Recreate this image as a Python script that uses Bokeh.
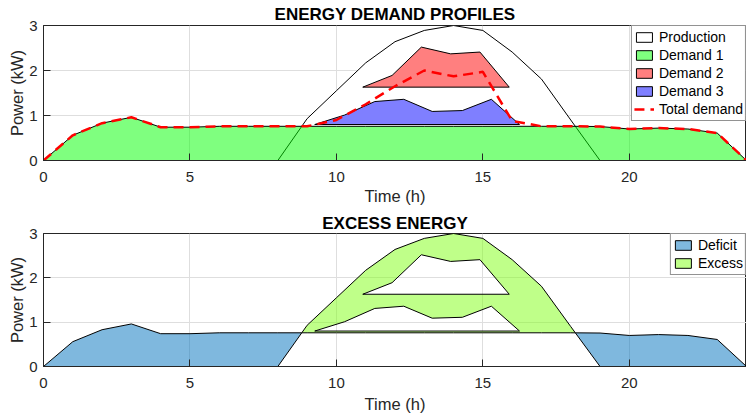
import numpy as np
from bokeh.plotting import figure
from bokeh.layouts import column
from bokeh.models import Range1d, FixedTicker
from bokeh.embed import file_html
from bokeh.resources import INLINE

# ---------------- data ----------------
hours = list(range(25))
demand1 = [0.0, 0.56, 0.83, 0.96, 0.74, 0.74, 0.76, 0.76, 0.76, 0.76, 0.76, 0.76, 0.76,
           0.76, 0.76, 0.76, 0.76, 0.76, 0.76, 0.755, 0.70, 0.72, 0.70, 0.61, 0.0]
total_demand = [0.0, 0.56, 0.83, 0.96, 0.74, 0.74, 0.76, 0.76, 0.76, 0.76, 0.90, 1.25, 1.65,
                2.00, 1.87, 1.97, 0.88, 0.76, 0.76, 0.755, 0.70, 0.72, 0.70, 0.61, 0.0]
prod_hours = [8, 9, 10, 11, 12, 13, 14, 15, 16, 17, 18, 19]
production = [0.0, 0.93, 1.55, 2.17, 2.64, 2.89, 3.00, 2.89, 2.41, 1.81, 0.90, 0.0]
d2_hours = [10.9, 11.9, 12.9, 13.9, 14.9, 15.9]
demand2 = [1.63, 1.89, 2.52, 2.37, 2.41, 1.63]
d3_hours = [9.26, 10.28, 11.31, 12.3, 13.27, 14.3, 15.29, 16.25]
demand3 = [0.80, 1.01, 1.31, 1.36, 1.09, 1.11, 1.36, 0.80]

x_ticks = [0, 5, 10, 15, 20]
y_ticks = [0, 1, 2, 3]

FONT = "Liberation Sans"
AX = "#262626"

# ---------------- derived shapes ----------------
hx = np.array(hours, dtype=float)
dv = np.array(demand1, dtype=float)
pv = np.interp(hx, prod_hours, production, left=0.0, right=0.0)
diff = pv - dv
cross = []
for i in range(len(hx) - 1):
    if diff[i] * diff[i + 1] < 0:
        t = diff[i] / (diff[i] - diff[i + 1])
        cross.append((hx[i] + t * (hx[i + 1] - hx[i]), dv[i] + t * (dv[i + 1] - dv[i])))
(c1x, c1y), (c2x, c2y) = cross[0], cross[-1]

# excess: production above demand 1, minus the demand 2 / 3 polygons (holes)
ex_x = [c1x] + [h for h in prod_hours if c1x < h < c2x] + [c2x] + [h for h in reversed(hours) if c1x < h < c2x]
ex_y = [c1y] + [p for h, p in zip(prod_hours, production) if c1x < h < c2x] + [c2y] + \
       [d for h, d in zip(reversed(hours), reversed(demand1)) if c1x < h < c2x]

# deficit: demand 1 above production
dl_x = [h for h in hours if h < c1x] + [c1x] + [h for h in reversed(prod_hours) if h < c1x]
dl_y = [d for h, d in zip(hours, demand1) if h < c1x] + [c1y] + \
       [p for h, p in zip(reversed(prod_hours), reversed(production)) if h < c1x]
dr_x = [c2x] + [h for h in hours if h > c2x] + [h for h in reversed(prod_hours) if h > c2x]
dr_y = [c2y] + [d for h, d in zip(hours, demand1) if h > c2x] + \
       [p for h, p in zip(reversed(prod_hours), reversed(production)) if h > c2x]


def make_fig(title, height, top_border, bottom_border, title_standoff, xlabel_standoff):
    p = figure(width=746, height=height, x_range=Range1d(0, 24), y_range=Range1d(0, 3),
               output_backend="svg", toolbar_location=None,
               min_border_left=43, min_border_right=0,
               min_border_top=top_border, min_border_bottom=bottom_border,
               x_axis_label="Time (h)", y_axis_label="Power (kW)")
    p.title.text = title
    p.title.align = "center"
    p.title.text_font = FONT
    p.title.text_font_size = "17px"
    p.title.text_font_style = "bold"
    p.title.text_color = "black"
    p.title.standoff = title_standoff
    p.title.offset = 0
    p.outline_line_color = AX
    p.outline_line_alpha = 1
    p.background_fill_color = "white"
    p.border_fill_color = "white"
    p.xaxis.ticker = FixedTicker(ticks=x_ticks)
    p.yaxis.ticker = FixedTicker(ticks=y_ticks)
    for ax in (p.xaxis[0], p.yaxis[0]):
        ax.major_tick_in = 7
        ax.major_tick_out = 0
        ax.minor_tick_in = 0
        ax.minor_tick_out = 0
        ax.axis_line_color = AX
        ax.major_tick_line_color = AX
        ax.major_label_text_font = FONT
        ax.major_label_text_font_size = "15px"
        ax.major_label_text_color = AX
        ax.axis_label_text_font = FONT
        ax.axis_label_text_font_size = "16.5px"
        ax.axis_label_text_font_style = "normal"
        ax.axis_label_text_color = AX
    p.xaxis.major_label_standoff = 11
    p.xaxis.axis_label_standoff = xlabel_standoff
    p.yaxis.major_label_standoff = 6
    p.yaxis.axis_label_standoff = 0
    p.grid.grid_line_color = "#DEDEDE"
    p.grid.grid_line_width = 1
    return p


def style_legend(p):
    lg = p.legend[0]
    lg.location = "top_right"
    lg.margin = 0
    lg.padding = 2
    lg.spacing = 0
    lg.glyph_width = 20
    lg.glyph_height = 12
    lg.label_height = 18
    lg.label_standoff = 5
    lg.label_text_font = FONT
    lg.label_text_font_size = "14px"
    lg.label_text_color = "black"
    lg.border_line_color = AX
    lg.border_line_width = 1
    lg.background_fill_alpha = 1


# ---------------- top: energy demand profiles ----------------
p1 = make_fig("ENERGY DEMAND PROFILES", 210, 25, 50, 4, 2)
p1.patch(prod_hours, production, fill_color="white", line_color="black", line_width=1,
         legend_label="Production")
p1.patch(hours, demand1, fill_color="#00FF00", fill_alpha=0.5, line_color="black", line_width=1,
         legend_label="Demand 1")
p1.patch(d2_hours, demand2, fill_color="#FF0000", fill_alpha=0.5, line_color="black", line_width=1,
         legend_label="Demand 2")
p1.patch(d3_hours, demand3, fill_color="#0000FF", fill_alpha=0.5, line_color="black", line_width=1,
         legend_label="Demand 3")
p1.line(hours, total_demand, line_color="#FF0000", line_width=2.5, line_dash="10 6",
        legend_label="Total demand")
style_legend(p1)

# ---------------- bottom: excess energy ----------------
p2 = make_fig("EXCESS ENERGY", 208, 23, 52, 2, 4)
p2.multi_polygons(xs=[[[dl_x], [dr_x]]], ys=[[[dl_y], [dr_y]]], fill_color="#0072BD", fill_alpha=0.5,
                  line_color="black", line_width=1, legend_label="Deficit")
p2.multi_polygons(xs=[[[ex_x, d2_hours, d3_hours]]], ys=[[[ex_y, demand2, demand3]]],
                  fill_color="#80FF14", fill_alpha=0.5, line_color="black", line_width=1,
                  legend_label="Excess")
style_legend(p2)

layout = column(p1, p2)
open("out.html", "w").write(file_html(layout, INLINE))
